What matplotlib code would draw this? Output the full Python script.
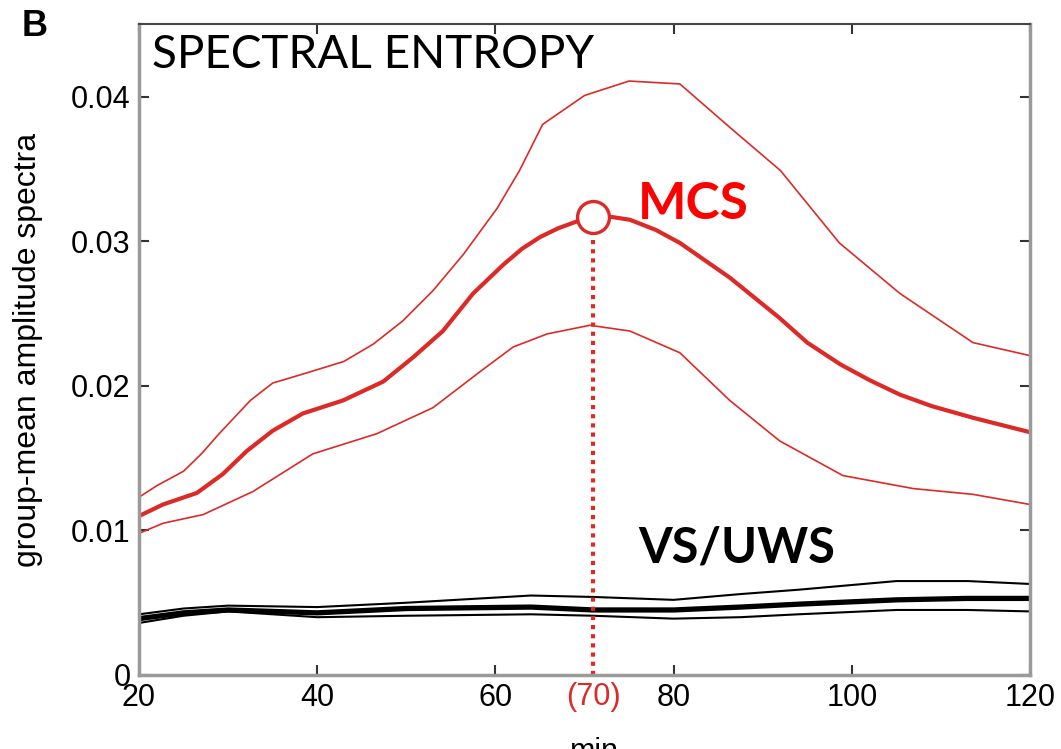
import matplotlib
matplotlib.use("Agg")
import matplotlib.pyplot as plt

# MCS group (red): upper bound, mean, lower bound
mcs_up_x = [20, 22, 25, 27, 29, 32.5, 35, 38.8, 43, 46.3, 49.6, 53, 56.4, 60.2, 62.7, 65.3, 70, 75, 80.7, 86.3, 92, 98.6, 105.4, 113.6, 120]
mcs_up_y = [0.0123, 0.0131, 0.0141, 0.0153, 0.0167, 0.0190, 0.0202, 0.0209, 0.0217, 0.0229, 0.0245, 0.0266, 0.0291, 0.0323,
            0.0349, 0.0381, 0.0401, 0.0411, 0.0409, 0.0379, 0.0349, 0.0299, 0.0264, 0.0230, 0.0221]

mcs_mean_x = [20, 22.7, 26.5, 29.4, 32.1, 35, 38.4, 42.9, 47.4, 50.8, 54.1, 57.5, 60.9, 63, 65, 67, 69.2, 71, 73, 75.1, 78, 80.7,
              86.3, 91.9, 95, 98.7, 102, 105.4, 109, 113.6, 120]
mcs_mean_y = [0.0110, 0.0118, 0.0126, 0.0139, 0.0155, 0.0169, 0.0181, 0.0190, 0.0203, 0.0220, 0.0238, 0.0264, 0.0284, 0.0295,
              0.0303, 0.0309, 0.0314, 0.0317, 0.0317, 0.0315, 0.0308, 0.0299, 0.0275, 0.0247, 0.0230, 0.0215, 0.0204,
              0.0194, 0.0186, 0.0178, 0.0168]

mcs_low_x = [20, 22.7, 27.2, 32.8, 39.5, 46.7, 53, 58.3, 62, 65.8, 70.6, 75.1, 80.7, 86.3, 91.9, 99, 106.9, 113.6, 120]
mcs_low_y = [0.0098, 0.0105, 0.0111, 0.0127, 0.0153, 0.0167, 0.0185, 0.0210, 0.0227, 0.0236, 0.0242, 0.0238, 0.0223, 0.0190,
             0.0162, 0.0138, 0.0129, 0.0125, 0.0118]

# VS/UWS group (black)
vs_x = [20, 25, 30, 40, 50, 64, 71, 80, 87.5, 94, 105, 113, 120]
vs_up_y = [0.0042, 0.0046, 0.0048, 0.0047, 0.0050, 0.0055, 0.0054, 0.0052, 0.0056, 0.0059, 0.0065, 0.0065, 0.0063]
vs_mean_y = [0.0039, 0.0043, 0.0045, 0.0043, 0.0046, 0.0047, 0.0045, 0.0045, 0.0047, 0.0049, 0.0052, 0.0053, 0.0053]
vs_low_y = [0.0036, 0.0041, 0.0044, 0.0040, 0.0041, 0.0042, 0.0041, 0.0039, 0.0040, 0.0042, 0.0045, 0.0045, 0.0044]

peak_x = 71
peak_y = 0.0317
peak_label = "(70)"

x_ticks = [20, 40, 60, 80, 100, 120]
y_ticks = [0, 0.01, 0.02, 0.03, 0.04]
y_tick_labels = ["0", "0.01", "0.02", "0.03", "0.04"]

red = "#dc2a26"
tick_font = ["Liberation Sans", "DejaVu Sans"]
label_font = ["Lato", "DejaVu Sans"]

fig = plt.figure(figsize=(10.61, 7.49), dpi=100)
ax = fig.add_axes([0.131, 0.0988, 0.8398, 0.8692])

ax.plot(mcs_up_x, mcs_up_y, color=red, lw=1.2)
ax.plot(mcs_low_x, mcs_low_y, color=red, lw=1.2)
ax.plot(mcs_mean_x, mcs_mean_y, color=red, lw=3.0)

ax.plot(vs_x, vs_up_y, color="black", lw=1.5)
ax.plot(vs_x, vs_low_y, color="black", lw=1.5)
ax.plot(vs_x, vs_mean_y, color="black", lw=3.8)

# peak marker and dotted drop line
ax.plot([peak_x, peak_x], [0, peak_y], color=red, lw=3, linestyle=(0, (1, 1.2)))
ax.plot([peak_x], [peak_y], marker="o", ms=23, mfc="white", mec=red, mew=2.4, zorder=5)

ax.set_xlim(20, 120)
ax.set_ylim(0, 0.04505)
ax.set_xticks(x_ticks)
ax.set_xticklabels([str(v) for v in x_ticks], fontsize=22, family=tick_font)
ax.set_yticks(y_ticks)
ax.set_yticklabels(y_tick_labels, fontsize=22, family=tick_font)
ax.tick_params(direction="in", length=7, width=1.5, color="#333333", top=True, right=True, pad=6)

for side in ["left", "right", "bottom"]:
    ax.spines[side].set_color("#9a9a9a")
    ax.spines[side].set_linewidth(2.5)
ax.spines["top"].set_color("#444444")
ax.spines["top"].set_linewidth(1.5)

ax.text(peak_x, -0.0005, peak_label, color=red, fontsize=22, family=tick_font, ha="center", va="top")

ax.set_ylabel("group-mean amplitude spectra", fontsize=23, family=tick_font, labelpad=20)
fig.text(0.56, -0.004, "min", fontsize=22, family=tick_font, ha="center", va="center")

ax.text(0.015, 0.985, "SPECTRAL ENTROPY", transform=ax.transAxes, fontsize=33, family=label_font,
        fontweight="normal", ha="left", va="top")
ax.text(0.56, 0.722, "MCS", transform=ax.transAxes, color="#ff0000", fontsize=37, family=label_font,
        fontweight="bold", ha="left", va="center")
ax.text(0.56, 0.195, "VS/UWS", transform=ax.transAxes, color="black", fontsize=35, family=label_font,
        fontweight="bold", ha="left", va="center")
fig.text(0.02, 0.965, "B", fontsize=26, family=tick_font, fontweight="bold", ha="left", va="center")

fig.savefig("out.png", dpi=100)
